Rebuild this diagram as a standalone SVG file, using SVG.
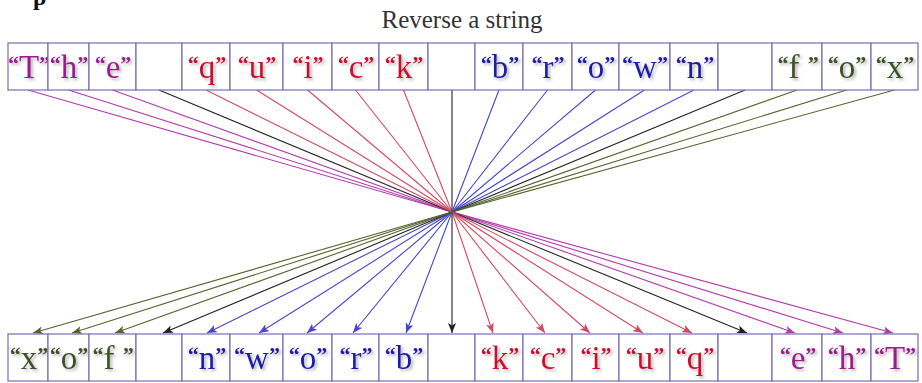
<svg xmlns="http://www.w3.org/2000/svg" width="922" height="383" viewBox="0 0 922 383">
<defs>
<style>
.cell{fill:#fff;stroke:#7b6bb5;stroke-width:1.2}
.ch{font-family:"Liberation Serif","Times New Roman",serif;font-size:33px;text-anchor:middle;filter:url(#sh)}
.q{font-size:22px;font-weight:bold;baseline-shift:7px}
.pu{fill:#9b1a8e}.re{fill:#cc1030}.bl{fill:#1a1aa8}.ol{fill:#3c5220}
.ln{fill:none;stroke-width:1.1}
.lpu{stroke:#b33cb0}.lre{stroke:#d24a62}.lbl{stroke:#4646cc}.lol{stroke:#56652c}.lbk{stroke:#222}
.title{font-family:"Liberation Serif","Times New Roman",serif;font-size:25px;fill:#333;text-anchor:middle}
</style>
<filter id="sh" x="-20%" y="-20%" width="150%" height="150%">
<feDropShadow dx="2" dy="2" stdDeviation="1.5" flood-color="#777" flood-opacity="0.55"/>
</filter>
<marker id="apu" markerWidth="10" markerHeight="8" refX="10" refY="4" orient="auto" markerUnits="userSpaceOnUse"><path d="M0,0 L10,4 L0,8 L2.5,4 z" fill="#b33cb0"/></marker>
<marker id="are" markerWidth="10" markerHeight="8" refX="10" refY="4" orient="auto" markerUnits="userSpaceOnUse"><path d="M0,0 L10,4 L0,8 L2.5,4 z" fill="#d24a62"/></marker>
<marker id="abl" markerWidth="10" markerHeight="8" refX="10" refY="4" orient="auto" markerUnits="userSpaceOnUse"><path d="M0,0 L10,4 L0,8 L2.5,4 z" fill="#4646cc"/></marker>
<marker id="aol" markerWidth="10" markerHeight="8" refX="10" refY="4" orient="auto" markerUnits="userSpaceOnUse"><path d="M0,0 L10,4 L0,8 L2.5,4 z" fill="#56652c"/></marker>
<marker id="abk" markerWidth="10" markerHeight="8" refX="10" refY="4" orient="auto" markerUnits="userSpaceOnUse"><path d="M0,0 L10,4 L0,8 L2.5,4 z" fill="#222"/></marker>
</defs>
<rect width="922" height="383" fill="#fff"/>
<text x="33" y="5" font-family="Liberation Serif,serif" font-size="24" font-weight="bold" fill="#111">p</text>
<text class="title" x="462" y="28">Reverse a string</text>

<g id="connectors">
<path class="ln lpu" d="M28,90 L452,212 L893,333" marker-end="url(#apu)"/>
<path class="ln lpu" d="M68.5,90 L452,212 L843,333" marker-end="url(#apu)"/>
<path class="ln lpu" d="M112.5,90 L452,212 L795,333" marker-end="url(#apu)"/>
<path class="ln lbk" d="M159,90 L452,212 L747,333" marker-end="url(#abk)"/>
<path class="ln lre" d="M206,90 L452,212 L692,333" marker-end="url(#are)"/>
<path class="ln lre" d="M256.5,90 L452,212 L643,333" marker-end="url(#are)"/>
<path class="ln lre" d="M307.5,90 L452,212 L590,333" marker-end="url(#are)"/>
<path class="ln lre" d="M355.5,90 L452,212 L545,333" marker-end="url(#are)"/>
<path class="ln lre" d="M403.5,90 L452,212 L493,333" marker-end="url(#are)"/>
<path class="ln lbk" d="M452,90 L452,212 L452,333" marker-end="url(#abk)"/>
<path class="ln lbl" d="M499,90 L452,212 L406,333" marker-end="url(#abl)"/>
<path class="ln lbl" d="M547.5,90 L452,212 L353,333" marker-end="url(#abl)"/>
<path class="ln lbl" d="M595.5,90 L452,212 L307,333" marker-end="url(#abl)"/>
<path class="ln lbl" d="M644.5,90 L452,212 L259,333" marker-end="url(#abl)"/>
<path class="ln lbl" d="M694,90 L452,212 L207,333" marker-end="url(#abl)"/>
<path class="ln lbk" d="M745,90 L452,212 L163,333" marker-end="url(#abk)"/>
<path class="ln lol" d="M797,90 L452,212 L115,333" marker-end="url(#aol)"/>
<path class="ln lol" d="M846.5,90 L452,212 L72,333" marker-end="url(#aol)"/>
<path class="ln lol" d="M894.5,90 L452,212 L33,333" marker-end="url(#aol)"/>
</g>

<g id="top-row">
<g id="t0"><rect class="cell" x="8" y="43" width="40" height="47"/><text class="ch pu" x="29" y="78"><tspan class="q">“</tspan>T<tspan class="q">”</tspan></text></g>
<g id="t1"><rect class="cell" x="48" y="43" width="41" height="47"/><text class="ch pu" x="69" y="78"><tspan class="q">“</tspan>h<tspan class="q">”</tspan></text></g>
<g id="t2"><rect class="cell" x="89" y="43" width="47" height="47"/><text class="ch pu" x="113" y="78"><tspan class="q">“</tspan>e<tspan class="q">”</tspan></text></g>
<g id="t3"><rect class="cell" x="136" y="43" width="46" height="47"/></g>
<g id="t4"><rect class="cell" x="182" y="43" width="48" height="47"/><text class="ch re" x="207" y="78"><tspan class="q">“</tspan>q<tspan class="q">”</tspan></text></g>
<g id="t5"><rect class="cell" x="230" y="43" width="53" height="47"/><text class="ch re" x="257" y="78"><tspan class="q">“</tspan>u<tspan class="q">”</tspan></text></g>
<g id="t6"><rect class="cell" x="283" y="43" width="49" height="47"/><text class="ch re" x="308" y="78"><tspan class="q">“</tspan>i<tspan class="q">”</tspan></text></g>
<g id="t7"><rect class="cell" x="332" y="43" width="47" height="47"/><text class="ch re" x="356" y="78"><tspan class="q">“</tspan>c<tspan class="q">”</tspan></text></g>
<g id="t8"><rect class="cell" x="379" y="43" width="49" height="47"/><text class="ch re" x="404" y="78"><tspan class="q">“</tspan>k<tspan class="q">”</tspan></text></g>
<g id="t9"><rect class="cell" x="428" y="43" width="47" height="47"/></g>
<g id="t10"><rect class="cell" x="475" y="43" width="48" height="47"/><text class="ch bl" x="500" y="78"><tspan class="q">“</tspan>b<tspan class="q">”</tspan></text></g>
<g id="t11"><rect class="cell" x="523" y="43" width="49" height="47"/><text class="ch bl" x="548" y="78"><tspan class="q">“</tspan>r<tspan class="q">”</tspan></text></g>
<g id="t12"><rect class="cell" x="572" y="43" width="47" height="47"/><text class="ch bl" x="596" y="78"><tspan class="q">“</tspan>o<tspan class="q">”</tspan></text></g>
<g id="t13"><rect class="cell" x="619" y="43" width="51" height="47"/><text class="ch bl" x="645" y="78"><tspan class="q">“</tspan>w<tspan class="q">”</tspan></text></g>
<g id="t14"><rect class="cell" x="670" y="43" width="48" height="47"/><text class="ch bl" x="695" y="78"><tspan class="q">“</tspan>n<tspan class="q">”</tspan></text></g>
<g id="t15"><rect class="cell" x="718" y="43" width="54" height="47"/></g>
<g id="t16"><rect class="cell" x="772" y="43" width="50" height="47"/><text class="ch ol" x="798" y="78"><tspan class="q">“</tspan>f <tspan class="q">”</tspan></text></g>
<g id="t17"><rect class="cell" x="822" y="43" width="49" height="47"/><text class="ch ol" x="847" y="78"><tspan class="q">“</tspan>o<tspan class="q">”</tspan></text></g>
<g id="t18"><rect class="cell" x="871" y="43" width="47" height="47"/><text class="ch ol" x="895" y="78"><tspan class="q">“</tspan>x<tspan class="q">”</tspan></text></g>
</g>

<g id="bottom-row">
<g id="b0"><rect class="cell" x="8" y="334" width="40" height="47"/><text class="ch ol" x="29" y="369"><tspan class="q">“</tspan>x<tspan class="q">”</tspan></text></g>
<g id="b1"><rect class="cell" x="48" y="334" width="41" height="47"/><text class="ch ol" x="69" y="369"><tspan class="q">“</tspan>o<tspan class="q">”</tspan></text></g>
<g id="b2"><rect class="cell" x="89" y="334" width="47" height="47"/><text class="ch ol" x="113" y="369"><tspan class="q">“</tspan>f <tspan class="q">”</tspan></text></g>
<g id="b3"><rect class="cell" x="136" y="334" width="46" height="47"/></g>
<g id="b4"><rect class="cell" x="182" y="334" width="48" height="47"/><text class="ch bl" x="207" y="369"><tspan class="q">“</tspan>n<tspan class="q">”</tspan></text></g>
<g id="b5"><rect class="cell" x="230" y="334" width="53" height="47"/><text class="ch bl" x="257" y="369"><tspan class="q">“</tspan>w<tspan class="q">”</tspan></text></g>
<g id="b6"><rect class="cell" x="283" y="334" width="49" height="47"/><text class="ch bl" x="308" y="369"><tspan class="q">“</tspan>o<tspan class="q">”</tspan></text></g>
<g id="b7"><rect class="cell" x="332" y="334" width="47" height="47"/><text class="ch bl" x="356" y="369"><tspan class="q">“</tspan>r<tspan class="q">”</tspan></text></g>
<g id="b8"><rect class="cell" x="379" y="334" width="49" height="47"/><text class="ch bl" x="404" y="369"><tspan class="q">“</tspan>b<tspan class="q">”</tspan></text></g>
<g id="b9"><rect class="cell" x="428" y="334" width="47" height="47"/></g>
<g id="b10"><rect class="cell" x="475" y="334" width="48" height="47"/><text class="ch re" x="500" y="369"><tspan class="q">“</tspan>k<tspan class="q">”</tspan></text></g>
<g id="b11"><rect class="cell" x="523" y="334" width="49" height="47"/><text class="ch re" x="548" y="369"><tspan class="q">“</tspan>c<tspan class="q">”</tspan></text></g>
<g id="b12"><rect class="cell" x="572" y="334" width="47" height="47"/><text class="ch re" x="596" y="369"><tspan class="q">“</tspan>i<tspan class="q">”</tspan></text></g>
<g id="b13"><rect class="cell" x="619" y="334" width="51" height="47"/><text class="ch re" x="645" y="369"><tspan class="q">“</tspan>u<tspan class="q">”</tspan></text></g>
<g id="b14"><rect class="cell" x="670" y="334" width="48" height="47"/><text class="ch re" x="695" y="369"><tspan class="q">“</tspan>q<tspan class="q">”</tspan></text></g>
<g id="b15"><rect class="cell" x="718" y="334" width="54" height="47"/></g>
<g id="b16"><rect class="cell" x="772" y="334" width="50" height="47"/><text class="ch pu" x="798" y="369"><tspan class="q">“</tspan>e<tspan class="q">”</tspan></text></g>
<g id="b17"><rect class="cell" x="822" y="334" width="49" height="47"/><text class="ch pu" x="847" y="369"><tspan class="q">“</tspan>h<tspan class="q">”</tspan></text></g>
<g id="b18"><rect class="cell" x="871" y="334" width="47" height="47"/><text class="ch pu" x="895" y="369"><tspan class="q">“</tspan>T<tspan class="q">”</tspan></text></g>
</g>
</svg>
